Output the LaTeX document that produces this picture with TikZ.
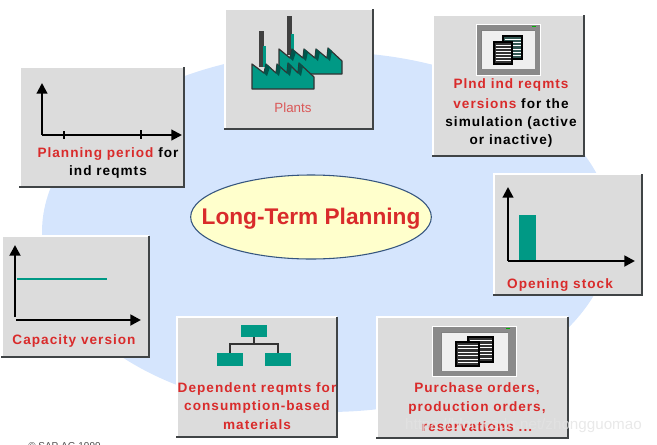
\documentclass[tikz,border=0pt]{standalone}
\usepackage{fontspec}
\setmainfont{Liberation Sans}
\newfontfamily\lblfont[LetterSpace=7.5]{Liberation Sans}
\usetikzlibrary{arrows.meta,shapes.geometric}
\definecolor{boxgray}{HTML}{DCDCDC}
\definecolor{blobblue}{HTML}{D5E5FD}
\definecolor{teal1}{HTML}{009985}
\definecolor{teal2}{HTML}{00564C}
\definecolor{redtxt}{HTML}{D92B2B}
\definecolor{edgedark}{HTML}{404446}
\definecolor{pale}{HTML}{FFFFCC}
\definecolor{ringblue}{HTML}{35557F}
\definecolor{scr}{HTML}{EFEFEF}
\definecolor{mon}{HTML}{8A8A8A}
\newcommand{\panelbox}[4]{%
  \fill[boxgray] (#1,#2) rectangle (#3,#4);
  \draw[white,line width=1.5pt] (#1,#4) -- (#1,#2) -- (#3,#2);
  \draw[edgedark,line width=1.5pt] (#3,#2) -- (#3,#4) -- (#1-1.5,#4);
}
\newcommand{\monitor}[9]{%
  \fill[mon,draw=white,line width=.6pt] (#1,#2) rectangle (#3,#4);
  \fill[scr] (#5,#6) rectangle (#7,#8);
  \draw[gray,line width=.6pt] (#5,#8) -- (#5,#6) -- (#7,#6);
  \fill[green!70!black] (#9-2,#2+1.5) rectangle (#9+2,#2+3.2);
}
\newcommand{\docpage}[5]{%
  \fill[#5] (#1,#2) rectangle (#3,#4);
  \foreach \yy in {1,...,6}{\draw[white,line width=.8pt] (#1+1.5,{#2+(#4-#2)*\yy/7}) -- (#3-1.5,{#2+(#4-#2)*\yy/7});}
  \draw[black,line width=1.1pt] (#1,#2) rectangle (#3,#4);
}
% one saw-tooth facet: valley x,y and peak x,y
\newcommand{\facet}[4]{%
  \fill[teal2] (#1,#2) -- (#3,#4) -- (#3+4,#4+3) -- (#1+3,#2+3) -- cycle;
}
\tikzset{
  lbl/.style={font=\fontsize{10.2}{12}\selectfont\lblfont\bfseries,inner sep=0pt,anchor=center,yshift=-.8pt},
  rlbl/.style={lbl,text=redtxt},
  axis/.style={black,line width=1.6pt,-{Triangle[length=8pt,width=8pt]}},
  axisb/.style={black,line width=2pt,-{Triangle[length=8pt,width=8pt]}},
  roof/.style={fill=teal1,draw=black!80,line width=.9pt,line join=round},
  orgbox/.style={fill=teal1},
  orgline/.style={black!80,line width=.8pt}
}
\begin{document}
\begin{tikzpicture}[x=.75pt,y=-.75pt]
\useasboundingbox (0,0) rectangle (657,444);
\fill[blobblue] (327,232) ellipse [x radius=285,y radius=180];

% ---- panels
\panelbox{20}{67}{184}{187}
\panelbox{225}{9}{373}{129}
\panelbox{433}{15}{584}{156}
\panelbox{494}{174}{642}{295}
\panelbox{377}{317}{568}{438}
\panelbox{177}{317}{337}{437}
\panelbox{2}{236}{149}{357}

% ---- centre
\node[ellipse,draw=ringblue,fill=pale,line width=.8pt,minimum width=180.5pt,minimum height=63pt,inner sep=0pt] (centre) at (311,217) {};
\node[font=\fontsize{17}{20}\selectfont\bfseries,text=redtxt,inner sep=0pt] (title) at (311,219) {Long-Term Planning};

% ---- planning period
\coordinate (po) at (42,135);
\coordinate (py) at (42,83);
\coordinate (px) at (182,135);
\draw[axis] (po) -- (py);
\draw[axis] (po) -- (px);
\draw[black,line width=1pt] (64,131) -- (64,139);
\draw[black,line width=1.6pt] (141,130) -- (141,139);
\node[lbl] (pl1) at (108,153) {\textcolor{redtxt}{Planning period} for};
\node[lbl] (pl2) at (108,171) {ind reqmts};

% ---- plants: back hall
\fill[black!75] (287,16) rectangle (292,34);
\fill[black!75] (286.5,34) rectangle (291,55);
\fill[teal1] (291,34) rectangle (293.5,55);
\draw[roof] (279,74) -- (279,49) -- (290,58) -- (292,49) -- (303,58) -- (304,49) -- (315,58) -- (316,49) -- (327,58) -- (328,48) -- (342,61) -- (342,74) -- cycle;
\facet{290}{58}{292}{49}
\facet{303}{58}{304}{49}
\facet{315}{58}{316}{49}
\facet{327}{58}{328}{48}
% front hall
\fill[black!75] (259,31) rectangle (264,48);
\fill[black!75] (258.5,48) rectangle (263,67);
\fill[teal1] (263,46) rectangle (265.5,67);
\draw[roof] (252,89) -- (252,64) -- (264,73) -- (266,64) -- (276,73) -- (277,64) -- (287,73) -- (288,63) -- (298,73) -- (299,63) -- (314,77) -- (314,89) -- cycle;
\facet{264}{73}{266}{64}
\facet{276}{73}{277}{64}
\facet{287}{73}{288}{63}
\facet{298}{73}{299}{63}
\node[font=\fontsize{10}{12}\selectfont,text=redtxt!75!boxgray,inner sep=0pt] (pla) at (293,108) {Plants};

% ---- Plnd ind reqmts
\monitor{476}{24}{540}{75}{481}{30}{535}{69}{534}
\docpage{503}{36}{522}{59}{black!60!teal1!60!gray}
\docpage{494}{42}{512}{64}{black!80}
\node[rlbl] (v1) at (511,84) {Plnd ind reqmts};
\node[lbl] (v2) at (511,103) {\textcolor{redtxt}{versions} for the};
\node[lbl] (v3) at (511,122) {simulation (active};
\node[lbl] (v4) at (511,140) {or inactive)};

% ---- Opening stock
\fill[teal1] (519,215) rectangle (536,260);
\coordinate (oo) at (508,261);
\coordinate (oy) at (508,187);
\coordinate (ox) at (635,261);
\draw[axis] (oo) -- (oy);
\draw[axisb] (oo) -- (ox);
\node[rlbl] (os) at (560,284) {Opening stock};

% ---- Capacity version
\coordinate (cy0) at (15,317);
\coordinate (cy) at (15,245);
\coordinate (cx0) at (16,320);
\coordinate (cx) at (141,320);
\draw[axisb] (cy0) -- (cy);
\draw[axisb] (cx0) -- (cx);
\draw[teal1,line width=1.5pt] (17,279) -- (107,279);
\node[rlbl] (cv) at (74,340) {Capacity version};

% ---- Dependent
\node[orgbox,minimum width=19.5pt,minimum height=9pt,inner sep=0pt] (oa) at (254,331) {};
\node[orgbox,minimum width=19.5pt,minimum height=9.5pt,inner sep=0pt] (ob) at (230,359.5) {};
\node[orgbox,minimum width=19.5pt,minimum height=9.5pt,inner sep=0pt] (oc) at (278,359.5) {};
\coordinate (oj) at (254,344);
\draw[orgline] (oa) -- (oj);
\draw[orgline] (ob) |- (oj) -| (oc);
\node[rlbl] (d1) at (257,388) {Dependent reqmts for};
\node[rlbl] (d2) at (257,406) {consumption-based};
\node[rlbl] (d3) at (257,424) {materials};

% ---- Purchase
\monitor{432}{326}{516}{376}{441}{332}{508}{371}{508}
\docpage{468}{337}{493}{362}{black!80}
\docpage{456}{342}{479}{366}{black!60!gray}
\node[rlbl] (pu1) at (477,388) {Purchase orders,};
\node[rlbl] (pu2) at (477,407) {production orders,};
\node[rlbl] (pu3) at (477,426) {reservations ...};

% ---- watermark and cut-off footer
\node[font=\fontsize{11.4}{14}\selectfont,text=gray!22,opacity=.8,inner sep=0pt] (wm) at (523.5,426) {https://blog.csdn.net/zhongguomao};
\node[font=\fontsize{7.5}{9}\selectfont,text=black!70,inner sep=0pt,anchor=north west] (ft) at (28,442) {© SAP AG 1999};
\end{tikzpicture}
\end{document}
